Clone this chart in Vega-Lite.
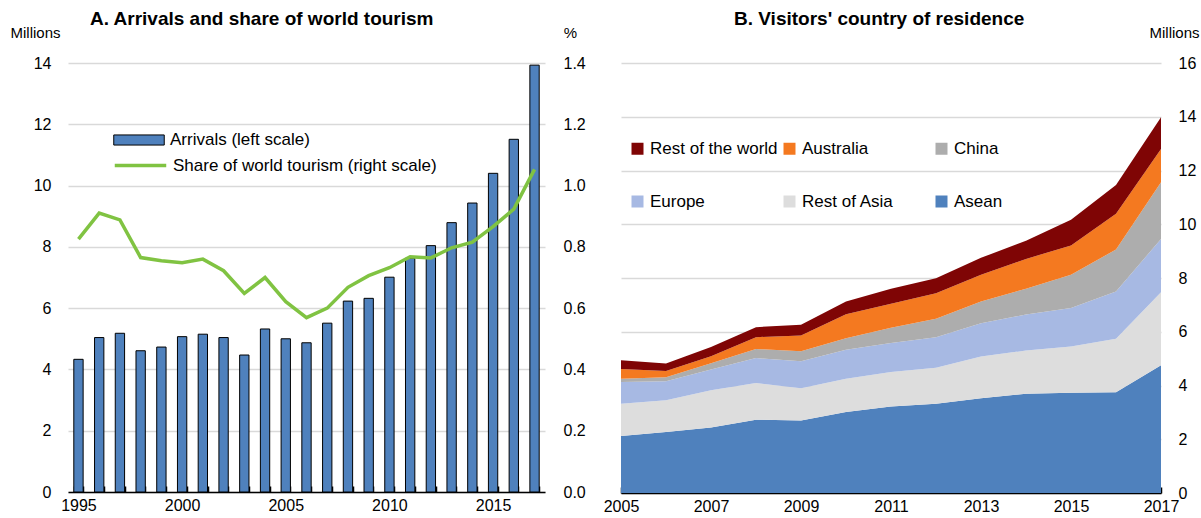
{
  "$schema": "https://vega.github.io/schema/vega-lite/v6.json",
  "padding": {"left": 10, "top": 10, "right": 0, "bottom": 0},
  "spacing": 17,
  "config": {
    "font": "Liberation Sans",
    "view": {"stroke": null},
    "axis": {"labelFontSize": 16, "labelColor": "#000", "titleColor": "#000", "titleFontWeight": "normal", "titleFontSize": 15},
    "legend": {"labelFontSize": 17, "labelColor": "#000", "labelLimit": 400},
    "title": {"fontSize": 19, "fontWeight": "bold", "color": "#000", "offset": -4}
  },
  "resolve": {"scale": {"color": "independent"}, "legend": {"color": "independent", "fill": "independent", "stroke": "independent"}},
  "hconcat": [
    {
      "width": 477,
      "height": 429,
      "title": {"text": "A. Arrivals and share of world tourism", "anchor": "start", "frame": "group", "dx": 22},
      "data": {"values": [
        {"year": 1995, "arrivals": 4.33, "share": 0.825},
        {"year": 1996, "arrivals": 5.04, "share": 0.91},
        {"year": 1997, "arrivals": 5.18, "share": 0.888},
        {"year": 1998, "arrivals": 4.61, "share": 0.765},
        {"year": 1999, "arrivals": 4.73, "share": 0.755},
        {"year": 2000, "arrivals": 5.07, "share": 0.748},
        {"year": 2001, "arrivals": 5.15, "share": 0.76},
        {"year": 2002, "arrivals": 5.04, "share": 0.722},
        {"year": 2003, "arrivals": 4.47, "share": 0.648},
        {"year": 2004, "arrivals": 5.32, "share": 0.70},
        {"year": 2005, "arrivals": 5.00, "share": 0.621},
        {"year": 2006, "arrivals": 4.87, "share": 0.569},
        {"year": 2007, "arrivals": 5.51, "share": 0.60},
        {"year": 2008, "arrivals": 6.23, "share": 0.668},
        {"year": 2009, "arrivals": 6.32, "share": 0.706},
        {"year": 2010, "arrivals": 7.01, "share": 0.732},
        {"year": 2011, "arrivals": 7.63, "share": 0.768},
        {"year": 2012, "arrivals": 8.04, "share": 0.764},
        {"year": 2013, "arrivals": 8.79, "share": 0.797},
        {"year": 2014, "arrivals": 9.43, "share": 0.815},
        {"year": 2015, "arrivals": 10.40, "share": 0.866},
        {"year": 2016, "arrivals": 11.51, "share": 0.923},
        {"year": 2017, "arrivals": 13.93, "share": 1.053}
      ]},
      "layer": [
        {
          "mark": {"type": "bar", "stroke": "#000", "strokeWidth": 1},
          "encoding": {
            "x": {"field": "year", "type": "ordinal", "scale": {"paddingInner": 0.55, "paddingOuter": 0.28},
              "axis": {"title": null, "labelAngle": 0, "labelExpr": "datum.value % 5 == 0 ? datum.label : ''", "tickBand": "extent", "tickSize": -6, "tickColor": "#000", "tickWidth": 1.5, "domainColor": "#000", "domainWidth": 1.5, "labelPadding": 11, "grid": false}},
            "y": {"field": "arrivals", "type": "quantitative", "scale": {"domain": [0, 14], "nice": false},
              "axis": {"values": [0, 2, 4, 6, 8, 10, 12, 14], "grid": true, "gridColor": "#D9D9D9", "gridWidth": 1.5, "domain": false, "ticks": false, "labelPadding": 17, "title": "Millions", "titleAngle": 0, "titleX": -58, "titleY": -31, "titleAlign": "left", "titleBaseline": "middle"}},
            "fill": {"datum": "Arrivals (left scale)", "type": "nominal", "scale": {"range": ["#4F81BD"]},
              "legend": {"title": null, "orient": "none", "legendX": 45, "legendY": 51, "symbolType": "M-1,-0.2H1V0.2H-1Z", "symbolSize": 2550, "symbolStrokeColor": "#000", "symbolStrokeWidth": 1, "labelOffset": 5}}
          }
        },
        {
          "mark": {"type": "line", "strokeWidth": 3.5},
          "encoding": {
            "x": {"field": "year", "type": "ordinal"},
            "y": {"field": "share", "type": "quantitative", "scale": {"domain": [0, 1.4], "nice": false},
              "axis": {"orient": "right", "values": [0, 0.2, 0.4, 0.6, 0.8, 1.0, 1.2, 1.4], "format": ".1f", "grid": false, "domain": false, "ticks": false, "labelPadding": 18, "title": "%", "titleAngle": 0, "titleX": 25, "titleY": -31, "titleAlign": "center", "titleBaseline": "middle"}},
            "stroke": {"datum": "Share of world tourism (right scale)", "type": "nominal", "scale": {"range": ["#80C342"]},
              "legend": {"title": null, "orient": "none", "legendX": 45, "legendY": 75, "symbolType": "stroke", "symbolSize": 2650, "symbolStrokeWidth": 3.5, "labelOffset": 5}}
          }
        }
      ],
      "resolve": {"scale": {"y": "independent", "fill": "independent", "stroke": "independent"}}
    },
    {
      "width": 540,
      "height": 430,
      "title": {"text": "B. Visitors' country of residence", "anchor": "start", "frame": "group", "dx": 113},
      "data": {"values": [
        {"year": 2005, "region": "Asean", "rank": 1, "value": 2.12},
        {"year": 2005, "region": "Rest of Asia", "rank": 2, "value": 1.20},
        {"year": 2005, "region": "Europe", "rank": 3, "value": 0.81},
        {"year": 2005, "region": "China", "rank": 4, "value": 0.12},
        {"year": 2005, "region": "Australia", "rank": 5, "value": 0.36},
        {"year": 2005, "region": "Rest of the world", "rank": 6, "value": 0.33},
        {"year": 2006, "region": "Asean", "rank": 1, "value": 2.27},
        {"year": 2006, "region": "Rest of Asia", "rank": 2, "value": 1.18},
        {"year": 2006, "region": "Europe", "rank": 3, "value": 0.71},
        {"year": 2006, "region": "China", "rank": 4, "value": 0.15},
        {"year": 2006, "region": "Australia", "rank": 5, "value": 0.23},
        {"year": 2006, "region": "Rest of the world", "rank": 6, "value": 0.28},
        {"year": 2007, "region": "Asean", "rank": 1, "value": 2.44},
        {"year": 2007, "region": "Rest of Asia", "rank": 2, "value": 1.38},
        {"year": 2007, "region": "Europe", "rank": 3, "value": 0.78},
        {"year": 2007, "region": "China", "rank": 4, "value": 0.23},
        {"year": 2007, "region": "Australia", "rank": 5, "value": 0.26},
        {"year": 2007, "region": "Rest of the world", "rank": 6, "value": 0.34},
        {"year": 2008, "region": "Asean", "rank": 1, "value": 2.73},
        {"year": 2008, "region": "Rest of Asia", "rank": 2, "value": 1.36},
        {"year": 2008, "region": "Europe", "rank": 3, "value": 0.93},
        {"year": 2008, "region": "China", "rank": 4, "value": 0.34},
        {"year": 2008, "region": "Australia", "rank": 5, "value": 0.44},
        {"year": 2008, "region": "Rest of the world", "rank": 6, "value": 0.37},
        {"year": 2009, "region": "Asean", "rank": 1, "value": 2.70},
        {"year": 2009, "region": "Rest of Asia", "rank": 2, "value": 1.20},
        {"year": 2009, "region": "Europe", "rank": 3, "value": 1.00},
        {"year": 2009, "region": "China", "rank": 4, "value": 0.37},
        {"year": 2009, "region": "Australia", "rank": 5, "value": 0.59},
        {"year": 2009, "region": "Rest of the world", "rank": 6, "value": 0.40},
        {"year": 2010, "region": "Asean", "rank": 1, "value": 3.01},
        {"year": 2010, "region": "Rest of Asia", "rank": 2, "value": 1.24},
        {"year": 2010, "region": "Europe", "rank": 3, "value": 1.08},
        {"year": 2010, "region": "China", "rank": 4, "value": 0.43},
        {"year": 2010, "region": "Australia", "rank": 5, "value": 0.89},
        {"year": 2010, "region": "Rest of the world", "rank": 6, "value": 0.48},
        {"year": 2011, "region": "Asean", "rank": 1, "value": 3.22},
        {"year": 2011, "region": "Rest of Asia", "rank": 2, "value": 1.28},
        {"year": 2011, "region": "Europe", "rank": 3, "value": 1.08},
        {"year": 2011, "region": "China", "rank": 4, "value": 0.57},
        {"year": 2011, "region": "Australia", "rank": 5, "value": 0.89},
        {"year": 2011, "region": "Rest of the world", "rank": 6, "value": 0.56},
        {"year": 2012, "region": "Asean", "rank": 1, "value": 3.32},
        {"year": 2012, "region": "Rest of Asia", "rank": 2, "value": 1.34},
        {"year": 2012, "region": "Europe", "rank": 3, "value": 1.14},
        {"year": 2012, "region": "China", "rank": 4, "value": 0.68},
        {"year": 2012, "region": "Australia", "rank": 5, "value": 0.95},
        {"year": 2012, "region": "Rest of the world", "rank": 6, "value": 0.56},
        {"year": 2013, "region": "Asean", "rank": 1, "value": 3.53},
        {"year": 2013, "region": "Rest of Asia", "rank": 2, "value": 1.55},
        {"year": 2013, "region": "Europe", "rank": 3, "value": 1.24},
        {"year": 2013, "region": "China", "rank": 4, "value": 0.81},
        {"year": 2013, "region": "Australia", "rank": 5, "value": 0.99},
        {"year": 2013, "region": "Rest of the world", "rank": 6, "value": 0.63},
        {"year": 2014, "region": "Asean", "rank": 1, "value": 3.69},
        {"year": 2014, "region": "Rest of Asia", "rank": 2, "value": 1.61},
        {"year": 2014, "region": "Europe", "rank": 3, "value": 1.34},
        {"year": 2014, "region": "China", "rank": 4, "value": 0.96},
        {"year": 2014, "region": "Australia", "rank": 5, "value": 1.11},
        {"year": 2014, "region": "Rest of the world", "rank": 6, "value": 0.68},
        {"year": 2015, "region": "Asean", "rank": 1, "value": 3.73},
        {"year": 2015, "region": "Rest of Asia", "rank": 2, "value": 1.72},
        {"year": 2015, "region": "Europe", "rank": 3, "value": 1.43},
        {"year": 2015, "region": "China", "rank": 4, "value": 1.24},
        {"year": 2015, "region": "Australia", "rank": 5, "value": 1.09},
        {"year": 2015, "region": "Rest of the world", "rank": 6, "value": 0.96},
        {"year": 2016, "region": "Asean", "rank": 1, "value": 3.75},
        {"year": 2016, "region": "Rest of Asia", "rank": 2, "value": 1.99},
        {"year": 2016, "region": "Europe", "rank": 3, "value": 1.76},
        {"year": 2016, "region": "China", "rank": 4, "value": 1.56},
        {"year": 2016, "region": "Australia", "rank": 5, "value": 1.33},
        {"year": 2016, "region": "Rest of the world", "rank": 6, "value": 1.07},
        {"year": 2017, "region": "Asean", "rank": 1, "value": 4.75},
        {"year": 2017, "region": "Rest of Asia", "rank": 2, "value": 2.72},
        {"year": 2017, "region": "Europe", "rank": 3, "value": 1.98},
        {"year": 2017, "region": "China", "rank": 4, "value": 2.11},
        {"year": 2017, "region": "Australia", "rank": 5, "value": 1.24},
        {"year": 2017, "region": "Rest of the world", "rank": 6, "value": 1.18}
      ]},
      "mark": {"type": "area", "opacity": 1},
      "encoding": {
        "x": {"field": "year", "type": "quantitative", "scale": {"domain": [2005, 2017], "nice": false, "zero": false},
          "axis": {"title": null, "values": [2005, 2007, 2009, 2011, 2013, 2015, 2017], "format": "d", "labelFlush": false, "tickSize": -6, "tickColor": "#000", "tickWidth": 1.5, "domainColor": "#000", "domainWidth": 1.5, "labelPadding": 11, "grid": false}},
        "y": {"field": "value", "type": "quantitative", "stack": "zero", "scale": {"domain": [0, 16], "nice": false},
          "axis": {"orient": "right", "values": [0, 2, 4, 6, 8, 10, 12, 14, 16], "grid": true, "gridColor": "#D9D9D9", "gridWidth": 1.5, "domain": false, "ticks": false, "labelPadding": 17, "title": "Millions", "titleAngle": 0, "titleX": 13, "titleY": -31, "titleAlign": "center", "titleBaseline": "middle"}},
        "color": {"field": "region", "type": "nominal",
          "scale": {"domain": ["Rest of the world", "Europe", "Australia", "Rest of Asia", "China", "Asean"], "range": ["#7F0505", "#A7B9E3", "#F47920", "#DDDDDD", "#ADADAD", "#4F81BD"]},
          "legend": {"title": null, "orient": "none", "legendX": 8, "legendY": 77, "columns": 3, "gridAlign": "all", "symbolType": "square", "symbolSize": 144, "symbolStrokeWidth": 0, "columnPadding": 3, "rowPadding": 35, "labelOffset": 4}},
        "order": {"field": "rank", "type": "quantitative"}
      }
    }
  ]
}
